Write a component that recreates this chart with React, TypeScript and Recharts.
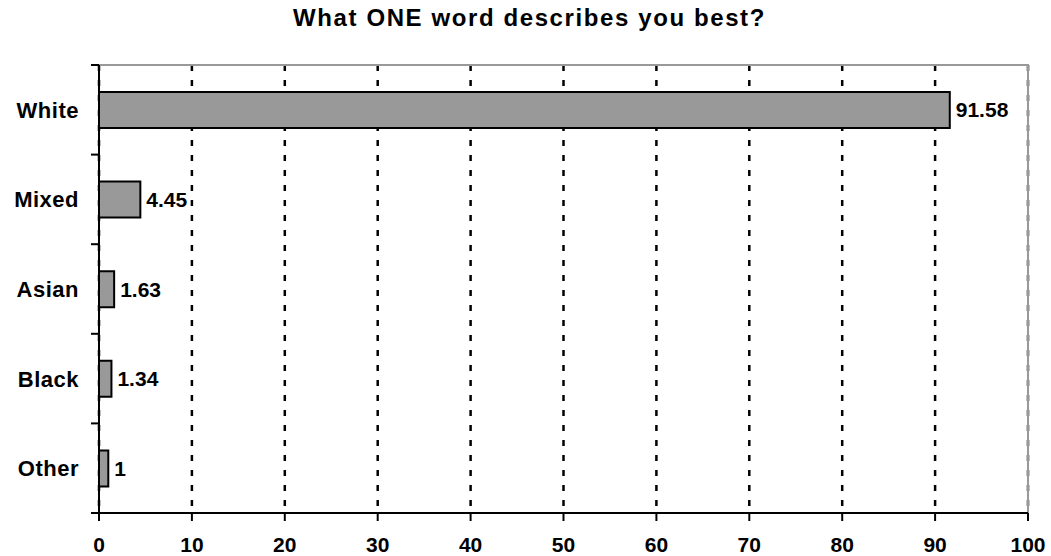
import { BarChart, Bar, XAxis, YAxis, CartesianGrid, LabelList, ReferenceArea } from "recharts";

const categories = ["White", "Mixed", "Asian", "Black", "Other"];
const values = [91.58, 4.45, 1.63, 1.34, 1];
const xTicks = [0, 10, 20, 30, 40, 50, 60, 70, 80, 90, 100];

const data = categories.map((name, i) => ({ name, value: values[i] }));

const font = "'Liberation Sans', Arial, sans-serif";

// category label plus a short tick at the top edge of its band (and the bottom one for the last row)
function CategoryTick(props: any) {
  const { x, y, payload, index, visibleTicksCount } = props;
  const half = payload.offset || 0;
  const axisX = x + 20;
  return (
    <g>
      <line x1={axisX - 8} x2={axisX} y1={y - half} y2={y - half} stroke="#000" strokeWidth={2} />
      {index === visibleTicksCount - 1 && (
        <line x1={axisX - 8} x2={axisX} y1={y + half} y2={y + half} stroke="#000" strokeWidth={2} />
      )}
      <text
        x={x}
        y={y}
        dy="0.36em"
        textAnchor="end"
        fill="#000"
        fontSize={22}
        fontWeight="bold"
        fontFamily={font}
        letterSpacing={0.5}
      >
        {payload.value}
      </text>
    </g>
  );
}

export default function App() {
  return (
    <div style={{ position: "absolute", left: 0, top: 0, width: 1051, height: 556, background: "#fff", fontFamily: font }}>
      <div
        style={{
          position: "absolute",
          top: 6,
          left: 4,
          width: 1051,
          textAlign: "center",
          fontSize: 24,
          lineHeight: "24px",
          fontWeight: "bold",
          letterSpacing: 1.6,
        }}
      >
        What ONE word describes you best?
      </div>
      <BarChart
        width={1051}
        height={556}
        data={data}
        layout="vertical"
        margin={{ top: 65, right: 23, bottom: 0, left: 1 }}
      >
        <ReferenceArea x1={0} x2={100} fill="none" fillOpacity={0} stroke="#999" strokeWidth={2} />
        <CartesianGrid
          horizontal={false}
          stroke="#000"
          strokeWidth={2.5}
          strokeDasharray="6 9"
        />
        <XAxis
          type="number"
          domain={[0, 100]}
          ticks={xTicks}
          interval={0}
          height={43}
          axisLine={{ stroke: "#000", strokeWidth: 2 }}
          tickLine={{ stroke: "#000", strokeWidth: 2 }}
          tickSize={8}
          tickMargin={16}
          tick={{ fill: "#000", fontSize: 21, fontWeight: "bold", fontFamily: font }}
        />
        <YAxis
          type="category"
          dataKey="name"
          width={98}
          axisLine={{ stroke: "#000", strokeWidth: 2 }}
          tickLine={false}
          tickSize={0}
          tickMargin={20}
          tick={<CategoryTick />}
        />
        <Bar
          dataKey="value"
          fill="#999999"
          stroke="#000"
          strokeWidth={2}
          barSize={36}
          isAnimationActive={false}
        >
          <LabelList
            dataKey="value"
            position="right"
            offset={6}
            fill="#000"
            style={{ fontSize: 21, fontWeight: "bold", fontFamily: font }}
          />
        </Bar>
      </BarChart>
    </div>
  );
}
